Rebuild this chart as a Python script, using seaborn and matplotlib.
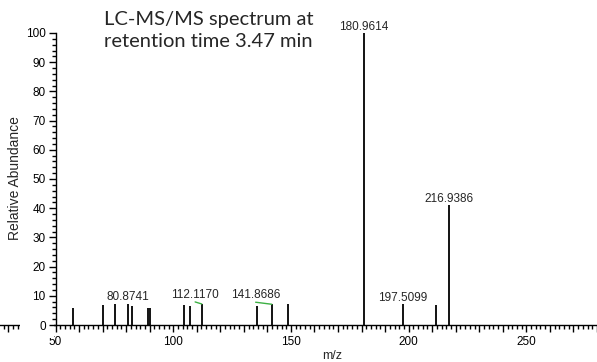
import pandas as pd
import matplotlib
matplotlib.use("Agg")
import matplotlib.pyplot as plt
from matplotlib.ticker import MultipleLocator, FixedLocator, FuncFormatter
from matplotlib.patches import Rectangle
import matplotlib.transforms as mtransforms
import seaborn as sns

# peak list
mz = [57.4, 70.0, 75.3, 80.8741, 82.5, 89.2, 90.1, 104.5, 107.3, 112.1170,
      135.5, 141.8686, 148.9, 180.9614, 197.5099, 211.5, 216.9386]
abundance = [5.9, 6.7, 7.1, 7.3, 6.4, 5.7, 5.7, 6.8, 6.6, 7.2,
             6.6, 7.1, 7.1, 100.0, 7.2, 6.7, 41.1]

# labels drawn straight above the peak
plain_labels = ["80.8741", "180.9614", "197.5099", "216.9386"]
# labels moved aside, joined to the peak by a green line
moved_labels = ["112.1170", "141.8686"]
moved_label_x = [109.3, 135.0]

title_lines = ["LC-MS/MS spectrum at", "retention time 3.47 min"]

df = pd.DataFrame({"mz": mz, "abundance": abundance})

sns.set_style("ticks")
plt.rcParams["font.family"] = ["Liberation Sans", "DejaVu Sans"]

fig = plt.figure(figsize=(5.97, 3.62), dpi=100)
ax = fig.add_axes([0, 37 / 362, 1, 325 / 362])

ax.vlines(df["mz"], 0, df["abundance"], color="black", lw=1.3, zorder=3)

ax.set_xlim(26.42, 280.0)
ax.set_ylim(0, 111.3)

sns.despine(ax=ax)
ax.spines["left"].set_position(("data", 50))
ax.spines["left"].set_bounds(0, 100)
for s in ["left", "bottom"]:
    ax.spines[s].set_linewidth(1.0)
    ax.spines[s].set_color("black")

ax.xaxis.set_major_locator(MultipleLocator(10))
ax.xaxis.set_minor_locator(MultipleLocator(2))
ax.xaxis.set_major_formatter(FuncFormatter(lambda v, p: f"{v:.0f}" if round(v) % 50 == 0 and v >= 50 else ""))
ax.yaxis.set_major_locator(FixedLocator(list(range(0, 101, 10))))
ax.yaxis.set_minor_locator(FixedLocator(list(range(0, 101, 2))))
ax.tick_params(which="major", length=5, width=1.0, labelsize=8.5, colors="black", pad=2)
ax.tick_params(which="minor", length=3, width=1.0, colors="black")
ax.tick_params(axis="x", which="major", pad=3)

# blank the bottom axis where the y tick labels sit
ax.yaxis.set_zorder(6)
trans = mtransforms.blended_transform_factory(ax.transData, ax.transAxes)
ax.add_patch(Rectangle((34.9, -0.04), 49.5 - 34.9, 0.05, transform=trans,
                       facecolor="white", edgecolor="none", zorder=5, clip_on=False))

lookup = dict(zip([f"{m:.4f}" for m in mz], abundance))
for lab in plain_labels:
    x = float(lab)
    ax.annotate(lab, (x, lookup[lab]), xytext=(0, 2.5), textcoords="offset points",
                ha="center", va="baseline", fontsize=8.5)

for lab, lx in zip(moved_labels, moved_label_x):
    x = float(lab)
    y = lookup[lab]
    ax.annotate(lab, (lx, y + 0.7), xytext=(0, 3), textcoords="offset points",
                ha="center", va="baseline", fontsize=8.5)
    ax.plot([lx, x], [y + 0.7, y], color="#3cb043", lw=1.0, zorder=4)

fig.text(15 / 597, 1 - 178 / 362, "Relative Abundance", rotation=90,
         ha="center", va="center", fontsize=10)
fig.text(332 / 597, 1 - 356 / 362, "m/z", ha="center", va="center", fontsize=9)

fig.text(104 / 597, 1 - 25 / 362, title_lines[0], ha="left", va="baseline",
         fontsize=14.5, family=["Lato", "DejaVu Sans"])
fig.text(104 / 597, 1 - 47 / 362, title_lines[1], ha="left", va="baseline",
         fontsize=14.5, family=["Lato", "DejaVu Sans"])

fig.savefig("out.png", dpi=100)
